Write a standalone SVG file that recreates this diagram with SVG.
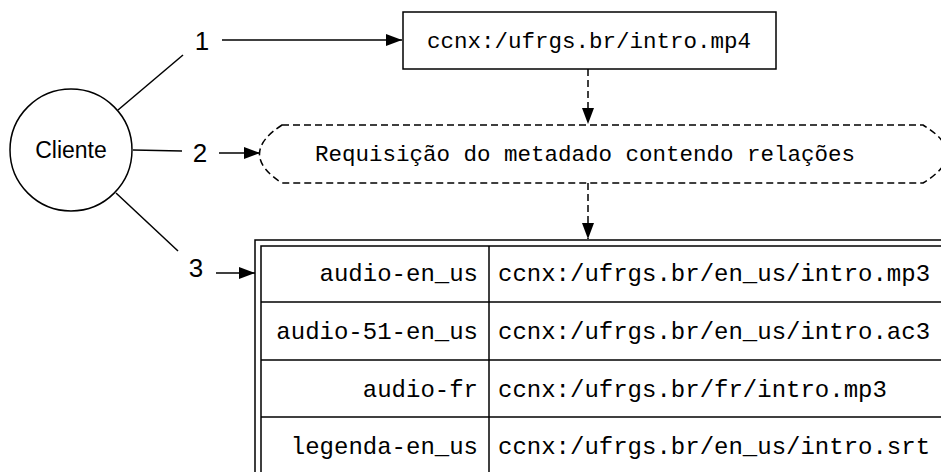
<svg xmlns="http://www.w3.org/2000/svg" width="941" height="472" viewBox="0 0 941 472">
<defs>
<marker id="ah" viewBox="0 0 16 12" refX="16" refY="6" markerWidth="16" markerHeight="12" markerUnits="userSpaceOnUse" orient="auto">
<path d="M0,0 L16,6 L0,12 Z" fill="#000"/>
</marker>
</defs>
<style>
.ln{stroke:#000;stroke-width:1.5;fill:none}
.dash{stroke-dasharray:7 4}
.mono{font-family:"Liberation Mono","Courier New",monospace;font-size:22.5px;fill:#000}
.cell{font-size:24px}
.sans{font-family:"Liberation Sans",Arial,sans-serif;font-size:26px;fill:#000}
</style>
<rect width="941" height="472" fill="#fff"/>
<g id="cliente">
<circle cx="71" cy="150" r="61" class="ln"/>
<text x="71" y="158" class="sans" style="font-size:23px" text-anchor="middle">Cliente</text>
</g>
<g id="label1"><text x="202" y="50" class="sans" text-anchor="middle">1</text></g>
<g id="label2"><text x="200" y="162" class="sans" text-anchor="middle">2</text></g>
<g id="label3"><text x="196" y="277" class="sans" text-anchor="middle">3</text></g>
<g id="box1">
<rect x="403" y="12" width="373" height="57" class="ln"/>
<text x="589" y="48" class="mono" text-anchor="middle">ccnx:/ufrgs.br/intro.mp4</text>
</g>
<g id="req">
<path d="M282,125 L923,125 Q971,154 923,183 L282,183 Q237,154 282,125 Z" class="ln dash"/>
<text x="585" y="161" class="mono" text-anchor="middle">Requisição do metadado contendo relações</text>
</g>
<g id="table">
<rect x="255" y="240" width="700" height="250" class="ln"/>
<rect x="261" y="246" width="690" height="240" class="ln"/>
<line x1="489" y1="246" x2="489" y2="486" class="ln"/>
<line x1="261" y1="302" x2="951" y2="302" class="ln"/>
<line x1="261" y1="360" x2="951" y2="360" class="ln"/>
<line x1="261" y1="417" x2="951" y2="417" class="ln"/>
<text x="478" y="281" class="mono cell" text-anchor="end">audio-en_us</text>
<text x="478" y="339" class="mono cell" text-anchor="end">audio-51-en_us</text>
<text x="478" y="397" class="mono cell" text-anchor="end">audio-fr</text>
<text x="478" y="454" class="mono cell" text-anchor="end">legenda-en_us</text>
<text x="498" y="281" class="mono cell">ccnx:/ufrgs.br/en_us/intro.mp3</text>
<text x="498" y="339" class="mono cell">ccnx:/ufrgs.br/en_us/intro.ac3</text>
<text x="498" y="397" class="mono cell">ccnx:/ufrgs.br/fr/intro.mp3</text>
<text x="498" y="454" class="mono cell">ccnx:/ufrgs.br/en_us/intro.srt</text>
</g>
<g id="connectors">
<line x1="118" y1="110" x2="183" y2="55" class="ln"/>
<line x1="133" y1="150" x2="182" y2="151" class="ln"/>
<line x1="116" y1="193" x2="178" y2="251" class="ln"/>
<line x1="222" y1="40" x2="402" y2="40" class="ln" marker-end="url(#ah)"/>
<line x1="219" y1="153" x2="260" y2="153" class="ln" marker-end="url(#ah)"/>
<line x1="216" y1="273" x2="255" y2="273" class="ln" marker-end="url(#ah)"/>
<line x1="588" y1="69" x2="588" y2="124" class="ln dash" marker-end="url(#ah)"/>
<line x1="588" y1="183" x2="588" y2="239" class="ln dash" marker-end="url(#ah)"/>
</g>
</svg>
